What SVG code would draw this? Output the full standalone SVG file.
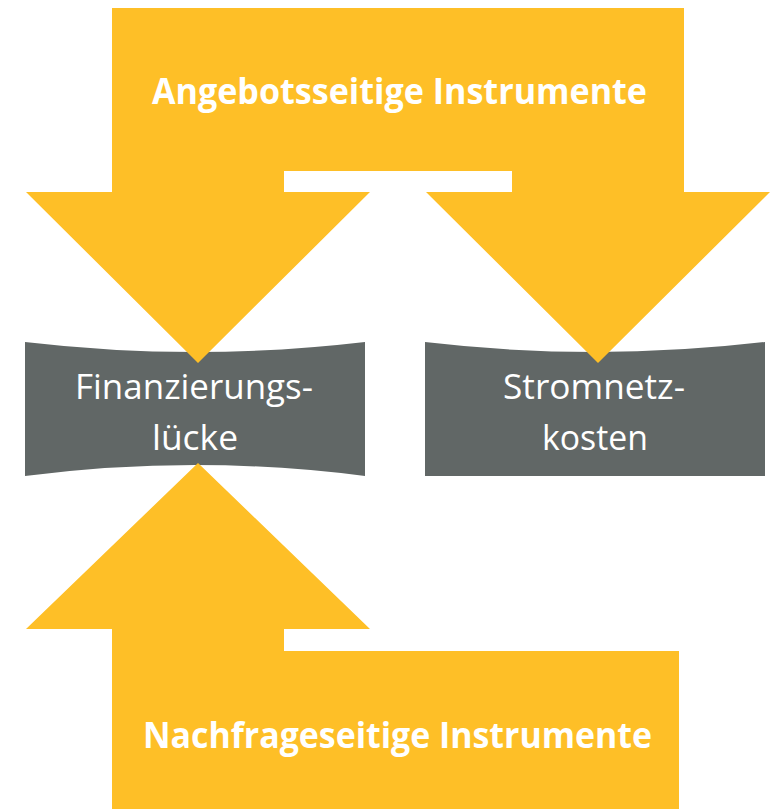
<svg xmlns="http://www.w3.org/2000/svg" width="777" height="809" viewBox="0 0 777 809">
<style>
.box{fill:#616766}
.arrow{fill:#FEBF27}
.lbl{font-family:"Open Sans","DejaVu Sans",sans-serif;fill:#ffffff;text-anchor:middle}
.reg{font-size:35px}
.bold{font-size:36px;font-weight:bold}
</style>
<rect width="777" height="809" fill="#ffffff"/>
<g id="box-finanzierung">
<path class="box" d="M25,342 Q195,362 365,342 V476 Q195,454 25,476 Z"/>
</g>
<g id="box-stromnetz">
<path class="box" d="M425,342 Q595,362 765,342 V476 H425 Z"/>
</g>
<g id="connectors">
<path id="angebot" class="arrow" d="M112,8 H684 V192 H770 L598,363 L426,192 H512 V171 H284 V192 H370 L198,363 L26,192 H112 Z"/>
<path id="nachfrage" class="arrow" d="M198,463 L370,629 H284 V651 H679 V809 H112 V629 H26 Z"/>
</g>
<g id="label-finanzierung">
<text class="lbl reg" x="194" y="399" textLength="238" lengthAdjust="spacingAndGlyphs">Finanzierungs-</text>
<text class="lbl reg" x="195" y="450" textLength="86" lengthAdjust="spacingAndGlyphs">lücke</text>
</g>
<g id="label-stromnetz">
<text class="lbl reg" x="594" y="399" textLength="182" lengthAdjust="spacingAndGlyphs">Stromnetz-</text>
<text class="lbl reg" x="595" y="450" textLength="106" lengthAdjust="spacingAndGlyphs">kosten</text>
</g>
<g id="label-angebot">
<text class="lbl bold" x="399.5" y="104" textLength="495" lengthAdjust="spacingAndGlyphs">Angebotsseitige Instrumente</text>
</g>
<g id="label-nachfrage">
<text class="lbl bold" x="397.5" y="748" textLength="509" lengthAdjust="spacingAndGlyphs">Nachfrageseitige Instrumente</text>
</g>
</svg>
